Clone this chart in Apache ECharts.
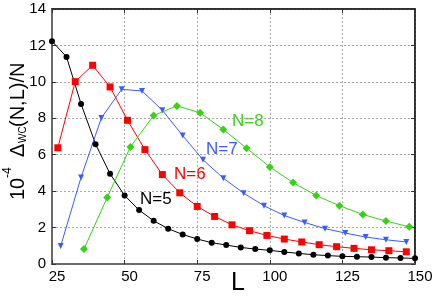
<!DOCTYPE html>
<html>
<head>
<meta charset="utf-8">
<script src="https://cdn.jsdelivr.net/npm/echarts@6/dist/echarts.min.js"></script>
<style>
html,body{margin:0;padding:0;background:#fff;}
#chart{width:436px;height:301px;}
</style>
</head>
<body>
<div id="chart"></div>
<script>
// Data
const L5 = [25,30,35,40,45,50,55,60,65,70,75,80,85,90,95,100,105,110,115,120,125,130,135,140,145,150];
const V5 = [12.23,11.37,8.79,6.58,4.95,3.76,2.96,2.37,1.94,1.62,1.37,1.17,1.04,0.91,0.82,0.75,0.66,0.58,0.51,0.46,0.42,0.40,0.38,0.35,0.33,0.31];
const L6 = [27,33,39,45,51,57,63,69,75,81,87,93,99,105,111,117,123,129,135,141,147];
const V6 = [6.38,10.01,10.91,9.72,7.89,6.28,4.91,3.91,3.16,2.61,2.15,1.83,1.57,1.37,1.21,1.06,0.95,0.86,0.78,0.73,0.67];
const L7 = [28,35,42,49,56,63,70,77,84,91,98,105,112,119,126,133,140,147];
const V7 = [0.99,4.75,8.02,9.59,9.50,8.44,7.05,5.72,4.71,3.89,3.20,2.66,2.28,1.94,1.70,1.48,1.33,1.21];
const L8 = [36,44,52,60,68,76,84,92,100,108,116,124,132,140,148];
const V8 = [0.82,3.65,6.43,8.15,8.68,8.30,7.38,6.36,5.33,4.47,3.76,3.20,2.72,2.36,2.04];
const seriesNames = ['N=5','N=6','N=7','N=8'];
const xTicks = [25,50,75,100,125,150];
const yTicks = [0,2,4,6,8,10,12,14];

const FONT = 'Liberation Sans, Arial, Helvetica, sans-serif';
const colors = ['#000000','#ff0000','#3a5cff','#33d411'];
const pairs = (xs, ys) => xs.map((x,i)=>[x, ys[i]]);

const chart = echarts.init(document.getElementById('chart'), null, {renderer:'canvas'});

const gridLine = {show:true, lineStyle:{color:'#a8a8a8', width:1, type:[2,2]}};
const option = {
  animation:false,
  backgroundColor:'#ffffff',
  grid:{left:52, right:21, top:9, bottom:37, show:true, borderColor:'#222', borderWidth:1.5, backgroundColor:'transparent'},
  xAxis:[{
    type:'value', min:xTicks[0], max:xTicks[xTicks.length-1], interval:25,
    axisLine:{show:true, onZero:false, lineStyle:{color:'#6a6a6a', width:2}},
    axisTick:{show:true, inside:true, length:4, lineStyle:{color:'#333'}},
    axisLabel:{fontFamily:FONT, fontSize:15, color:'#000', margin:5, padding:[0,0,0,10]},
    splitLine:gridLine
  },{
    type:'value', position:'top', min:xTicks[0], max:xTicks[xTicks.length-1], interval:25,
    axisLine:{show:true, onZero:false, lineStyle:{color:'#222', width:1.5}},
    axisTick:{show:true, inside:true, length:4, lineStyle:{color:'#333'}},
    axisLabel:{show:false}, splitLine:{show:false}
  }],
  yAxis:[{
    type:'value', min:yTicks[0], max:yTicks[yTicks.length-1], interval:2,
    axisLine:{show:true, onZero:false, lineStyle:{color:'#6a6a6a', width:2}},
    axisTick:{show:true, inside:true, length:4, lineStyle:{color:'#333'}},
    axisLabel:{fontFamily:FONT, fontSize:15, color:'#000', margin:6},
    splitLine:gridLine
  },{
    type:'value', position:'right', min:yTicks[0], max:yTicks[yTicks.length-1], interval:2,
    axisLine:{show:true, onZero:false, lineStyle:{color:'#222', width:1.5}},
    axisTick:{show:true, inside:true, length:4, lineStyle:{color:'#333'}},
    axisLabel:{show:false}, splitLine:{show:false}
  }],
  series:[
    {name:seriesNames[0], type:'line', data:pairs(L5,V5), symbol:'circle', symbolSize:6,
     lineStyle:{color:colors[0], width:1}, itemStyle:{color:colors[0]}},
    {name:seriesNames[1], type:'line', data:pairs(L6,V6), symbol:'rect', symbolSize:7,
     lineStyle:{color:colors[1], width:1}, itemStyle:{color:colors[1]}},
    {name:seriesNames[2], type:'line', data:pairs(L7,V7), symbol:'triangle', symbolRotate:180, symbolSize:6,
     lineStyle:{color:colors[2], width:1}, itemStyle:{color:colors[2]}},
    {name:seriesNames[3], type:'line', data:pairs(L8,V8), symbol:'diamond', symbolSize:8,
     lineStyle:{color:colors[3], width:1}, itemStyle:{color:colors[3]}}
  ],
  graphic:[
    {type:'text', left:140, top:191, style:{text:seriesNames[0], font:'17px '+FONT, fill:colors[0]}},
    {type:'text', left:174, top:166, style:{text:seriesNames[1], font:'17px '+FONT, fill:colors[1]}},
    {type:'text', left:206, top:141, style:{text:seriesNames[2], font:'17px '+FONT, fill:colors[2]}},
    {type:'text', left:232, top:113, style:{text:seriesNames[3], font:'17px '+FONT, fill:colors[3]}},
    {type:'text', left:231, top:271, style:{text:'L', font:'25px '+FONT, fill:'#000'}},
    {type:'group', x:0, y:0, rotation:Math.PI/2, children:[
      {type:'text', x:-200, y:18, style:{text:'10', font:'20px '+FONT, fill:'#000', textAlign:'left', textVerticalAlign:'middle'}},
      {type:'text', x:-178, y:8, style:{text:'-4', font:'12px '+FONT, fill:'#000', textAlign:'left', textVerticalAlign:'middle'}},
      {type:'text', x:-157, y:18, style:{text:'\u0394', font:'20px '+FONT, fill:'#000', textAlign:'left', textVerticalAlign:'middle'}},
      {type:'text', x:-143, y:23, style:{text:'WC', font:'10px '+FONT, fill:'#000', textAlign:'left', textVerticalAlign:'middle'}},
      {type:'text', x:-127, y:18, style:{text:'(N,L)/N', font:'20px '+FONT, fill:'#000', textAlign:'left', textVerticalAlign:'middle'}}
    ]}
  ]
};
chart.setOption(option);
</script>
</body>
</html>
